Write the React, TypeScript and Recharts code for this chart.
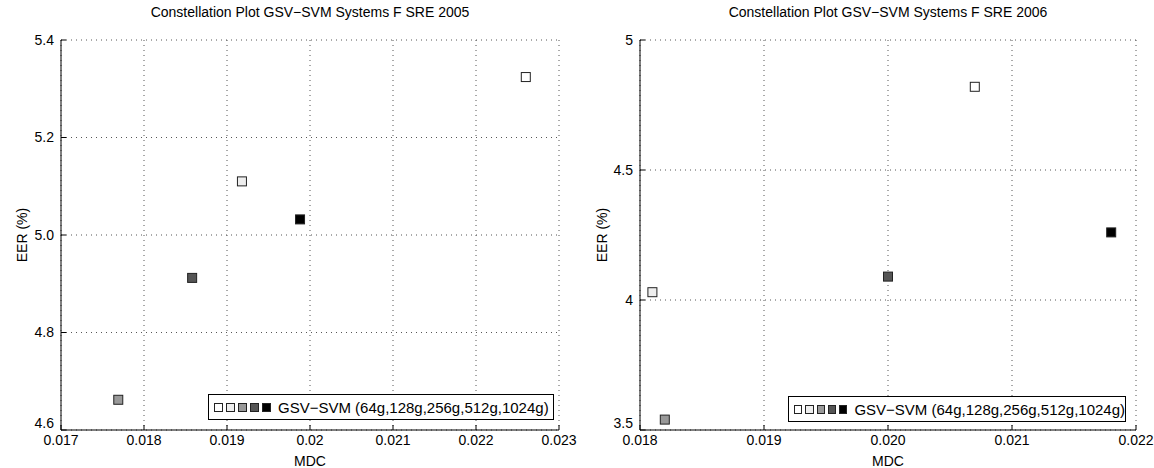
import React from 'react';
import { ScatterChart, Scatter, XAxis, YAxis, CartesianGrid } from 'recharts';

const systems = ['64g', '128g', '256g', '512g', '1024g'];
const systemFills = ['#ffffff', '#eeeeee', '#999999', '#555555', '#000000'];

// SRE 2005 panel
const sre05Mdc = [0.0226, 0.01918, 0.01769, 0.01858, 0.01988];
const sre05Eer = [5.324, 5.11, 4.662, 4.912, 5.032];
const sre05XTicks = [0.017, 0.018, 0.019, 0.02, 0.021, 0.022, 0.023];
const sre05XLabels = ['0.017', '0.018', '0.019', '0.02', '0.021', '0.022', '0.023'];
const sre05YTicks = [4.6, 4.8, 5.0, 5.2, 5.4];
const sre05YLabels = ['4.6', '4.8', '5.0', '5.2', '5.4'];

// SRE 2006 panel
const sre06Mdc = [0.0207, 0.0181, 0.0182, 0.02, 0.0218];
const sre06Eer = [4.82, 4.03, 3.54, 4.09, 4.26];
const sre06XTicks = [0.018, 0.019, 0.02, 0.021, 0.022];
const sre06XLabels = ['0.018', '0.019', '0.020', '0.021', '0.022'];
const sre06YTicks = [3.5, 4, 4.5, 5];
const sre06YLabels = ['3.5', '4', '4.5', '5'];

const FONT = '"Liberation Sans", Arial, Helvetica, sans-serif';
const HEIGHT = 468;

const squareShape = (props: any) => {
  const { cx, cy, fill } = props;
  if (cx == null || cy == null) return <g />;
  return <rect x={cx - 4.5} y={cy - 4.5} width={9} height={9} fill={fill} stroke="#222" strokeWidth={1} />;
};

interface PanelProps {
  left: number;
  width: number;
  plotLeft: number;
  plotRight: number;
  title: string;
  mdc: number[];
  eer: number[];
  xTicks: number[];
  xLabels: string[];
  yTicks: number[];
  yLabels: string[];
  legendLeft: number;
  legendTop: number;
  legendWidth: number;
}

function Panel(p: PanelProps) {
  const xDomain = [p.xTicks[0], p.xTicks[p.xTicks.length - 1]];
  const yDomain = [p.yTicks[0], p.yTicks[p.yTicks.length - 1]];
  const tickStyle = { fontSize: 14, fill: '#000', fontFamily: FONT };
  const fmtX = (_v: number, i: number) => p.xLabels[i];

  // y labels: the bottom one is nudged up so it clears the x label
  const yTick = (props: any) => {
    const { x, y, index } = props;
    return (
      <text
        x={x}
        y={y + (index === 0 ? -7 : 0)}
        dy="0.35em"
        textAnchor="end"
        fontSize={14}
        fontFamily={FONT}
        fill="#000"
      >
        {p.yLabels[index]}
      </text>
    );
  };

  return (
    <div style={{ position: 'absolute', left: p.left, top: 0, width: p.width, height: HEIGHT }}>
      <div
        style={{
          position: 'absolute',
          left: p.plotLeft,
          width: p.plotRight - p.plotLeft,
          top: 5,
          textAlign: 'center',
          fontFamily: FONT,
          fontSize: 14,
          lineHeight: '15px',
          color: '#000',
        }}
      >
        {p.title}
      </div>
      <ScatterChart
        width={p.width}
        height={HEIGHT}
        margin={{ top: 40, right: p.width - p.plotRight, bottom: 0, left: 0 }}
        style={{ fontFamily: FONT }}
      >
        <CartesianGrid stroke="#555" strokeDasharray="1 4" />
        <XAxis
          type="number"
          dataKey="mdc"
          domain={xDomain}
          ticks={p.xTicks}
          allowDataOverflow
          tickFormatter={fmtX}
          height={38}
          tick={tickStyle}
          tickSize={-5}
          tickMargin={10}
          stroke="#000"
          label={{ value: 'MDC', position: 'insideBottom', offset: 2, fill: '#000', fontSize: 14 }}
        />
        <XAxis
          xAxisId="top"
          orientation="top"
          type="number"
          domain={xDomain}
          ticks={p.xTicks}
          allowDataOverflow
          height={0}
          tick={false}
          tickSize={-5}
          stroke="#000"
        />
        <YAxis
          type="number"
          dataKey="eer"
          domain={yDomain}
          ticks={p.yTicks}
          allowDataOverflow
          width={p.plotLeft}
          tick={yTick}
          tickSize={-5}
          tickMargin={12}
          stroke="#000"
          label={{
            value: 'EER (%)',
            angle: -90,
            position: 'insideLeft',
            offset: 22,
            fill: '#000',
            fontSize: 14,
            style: { textAnchor: 'middle' },
          }}
        />
        <YAxis
          yAxisId="right"
          orientation="right"
          type="number"
          domain={yDomain}
          ticks={p.yTicks}
          allowDataOverflow
          width={0}
          tick={false}
          tickSize={-5}
          stroke="#000"
        />
        {systems.map((s, i) => (
          <Scatter
            key={s}
            name={s}
            data={[{ mdc: p.mdc[i], eer: p.eer[i] }]}
            fill={systemFills[i]}
            shape={squareShape}
            isAnimationActive={false}
          />
        ))}
      </ScatterChart>
      <div
        style={{
          position: 'absolute',
          left: p.legendLeft,
          top: p.legendTop,
          width: p.legendWidth,
          height: 26,
          border: '1px solid #000',
          background: '#fff',
          display: 'flex',
          alignItems: 'center',
          whiteSpace: 'nowrap',
          fontFamily: FONT,
          fontSize: 15,
          color: '#000',
          boxSizing: 'border-box',
          paddingLeft: 5,
        }}
      >
        {systemFills.map((c, i) => (
          <span
            key={i}
            style={{
              display: 'inline-block',
              width: 9,
              height: 9,
              background: c,
              border: '1px solid #222',
              boxSizing: 'border-box',
              marginRight: 3,
            }}
          />
        ))}
        <span style={{ marginLeft: 4 }}>GSV−SVM ({systems.join(',')})</span>
      </div>
    </div>
  );
}

export default function App() {
  return (
    <div style={{ position: 'absolute', left: 0, top: 0, width: 1154, height: HEIGHT, background: '#fff' }}>
      <Panel
        left={0}
        width={580}
        plotLeft={61}
        plotRight={559}
        title="Constellation Plot GSV−SVM Systems F SRE 2005"
        mdc={sre05Mdc}
        eer={sre05Eer}
        xTicks={sre05XTicks}
        xLabels={sre05XLabels}
        yTicks={sre05YTicks}
        yLabels={sre05YLabels}
        legendLeft={208}
        legendTop={394}
        legendWidth={346}
      />
      <Panel
        left={580}
        width={574}
        plotLeft={60}
        plotRight={556}
        title="Constellation Plot GSV−SVM Systems F SRE 2006"
        mdc={sre06Mdc}
        eer={sre06Eer}
        xTicks={sre06XTicks}
        xLabels={sre06XLabels}
        yTicks={sre06YTicks}
        yLabels={sre06YLabels}
        legendLeft={208}
        legendTop={396}
        legendWidth={338}
      />
    </div>
  );
}
